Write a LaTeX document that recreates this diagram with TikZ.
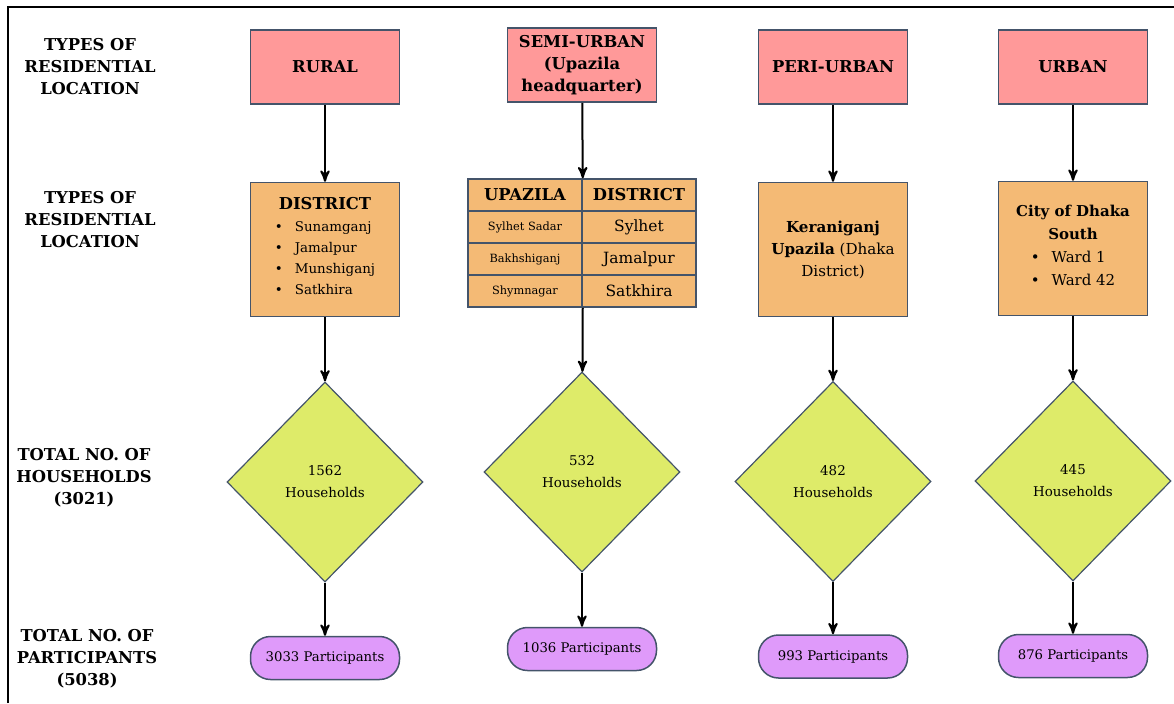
\documentclass[tikz,border=0pt]{standalone}
\usepackage{fontspec}
\setmainfont{DejaVu Serif}[Scale=0.86]
\usetikzlibrary{shapes.geometric, arrows}
\usepackage{color}

\definecolor{locred}{HTML}{FF9999}
\definecolor{areaorange}{HTML}{F4BA75}
\definecolor{hhgreen}{HTML}{DEEB69}
\definecolor{partviolet}{HTML}{DF9AFA}
\definecolor{boxedge}{HTML}{44546A}

\tikzset{
  location/.style={rectangle, draw=boxedge, fill=locred, line width=0.75pt,
    minimum width=74.5pt, minimum height=37pt, align=center,
    font=\fontsize{9.5}{11}\selectfont\bfseries},
  area/.style={rectangle, draw=boxedge, fill=areaorange, line width=0.75pt,
    minimum width=74.5pt, minimum height=67pt, align=center,
    font=\fontsize{7.8}{10.5}\selectfont},
  cell/.style={rectangle, draw=boxedge, fill=areaorange, line width=0.75pt,
    minimum width=57pt, minimum height=16pt, inner sep=0pt},
  household/.style={diamond, draw=boxedge, fill=hhgreen, line width=0.6pt,
    minimum width=98pt, minimum height=100pt, inner sep=0pt, align=center,
    font=\fontsize{7.8}{11}\selectfont},
  participant/.style={rectangle, rounded corners=10pt, draw=boxedge, fill=partviolet,
    line width=0.75pt, minimum width=74.5pt, minimum height=21.5pt,
    font=\fontsize{7.7}{10}\selectfont},
  rowlabel/.style={align=center, font=\fontsize{9.5}{11}\selectfont\bfseries}
}

\begin{document}
\begin{tikzpicture}[x=0.5pt,y=-0.5pt,->,>=stealth',line width=1pt,node distance=91.25pt]
  \useasboundingbox (0,0) rectangle (1174,703);
  \draw[-] (8,703) -- (8,7) -- (1174,7);

  % row labels
  \node[rowlabel] (lbl-loc) at (90,67) {TYPES OF\\RESIDENTIAL\\LOCATION};
  \node[rowlabel] (lbl-area) at (90,220) {TYPES OF\\RESIDENTIAL\\LOCATION};
  \node[rowlabel] (lbl-hh) at (84,478) {TOTAL NO. OF\\HOUSEHOLDS\\(3021)};
  \node[rowlabel] (lbl-part) at (87,659) {TOTAL NO. OF\\PARTICIPANTS\\(5038)};

  % rural
  \node[location] (rural) at (325,67) {RURAL};
  \node[area] (rural-area) [below of = rural] {\fontsize{9.5}{11}\selectfont\textbf{DISTRICT}\\[0.5pt]
    \begin{tabular}[t]{@{}l@{\hspace{6pt}}l@{}}
      \textbullet & Sunamganj\\ \textbullet & Jamalpur\\ \textbullet & Munshiganj\\ \textbullet & Satkhira
    \end{tabular}};
  \node[household] (rural-hh) [below of = rural-area, node distance=116.25pt] {1562\\Households};
  \node[participant] (rural-part) [below of = rural-hh, node distance=88pt] {3033 Participants};

  % semi-urban
  \node[location] (semi) at (582,65) {SEMI-URBAN\\(Upazila\\headquarter)};
  \node[cell, font=\fontsize{9.5}{11}\selectfont\bfseries] (upz-1) at (525,195) {UPAZILA};
  \node[cell, font=\fontsize{9.5}{11}\selectfont\bfseries] (dist-1) [right of = upz-1, node distance=57pt] {DISTRICT};
  \node[cell, font=\fontsize{6.6}{8}\selectfont] (upz-2) [below of = upz-1, node distance=16pt] {Sylhet Sadar};
  \node[cell, font=\fontsize{9}{10}\selectfont] (dist-2) [right of = upz-2, node distance=57pt] {Sylhet};
  \node[cell, font=\fontsize{6.6}{8}\selectfont] (upz-3) [below of = upz-2, node distance=16pt] {Bakhshiganj};
  \node[cell, font=\fontsize{9}{10}\selectfont] (dist-3) [right of = upz-3, node distance=57pt] {Jamalpur};
  \node[cell, font=\fontsize{6.6}{8}\selectfont] (upz-4) [below of = upz-3, node distance=16pt] {Shymnagar};
  \node[cell, font=\fontsize{9}{10}\selectfont] (dist-4) [right of = upz-4, node distance=57pt] {Satkhira};
  \node[household] (semi-hh) [below of = semi, node distance=203.5pt] {532\\Households};
  \node[participant] (semi-part) [below of = semi-hh, node distance=88.5pt] {1036 Participants};

  % peri-urban
  \node[location] (peri) at (833,67) {PERI-URBAN};
  \node[area, font=\fontsize{8.8}{11}\selectfont] (peri-area) [below of = peri] {\textbf{Keraniganj}\\\textbf{Upazila} (Dhaka\\District)};
  \node[household] (peri-hh) [below of = peri-area, node distance=116pt] {482\\Households};
  \node[participant] (peri-part) [below of = peri-hh, node distance=87.5pt] {993 Participants};

  % urban
  \node[location] (urban) at (1073,67) {URBAN};
  \node[area, font=\fontsize{8.7}{11.5}\selectfont] (urban-area) [below of = urban, node distance=90.75pt] {\textbf{City of Dhaka}\\\textbf{South}\\
    \begin{tabular}[t]{@{}l@{\hspace{6pt}}l@{}}
      \textbullet & Ward 1\\ \textbullet & Ward 42
    \end{tabular}};
  \node[household] (urban-hh) [below of = urban-area, node distance=116.25pt] {445\\Households};
  \node[participant] (urban-part) [below of = urban-hh, node distance=87.5pt] {876 Participants};

  \path
  (rural) edge (rural-area)
  (rural-area) edge (rural-hh)
  (rural-hh) edge (rural-part)
  (semi) edge (upz-1.north east)
  (upz-4.south east) edge (semi-hh)
  (semi-hh) edge (semi-part)
  (peri) edge (peri-area)
  (peri-area) edge (peri-hh)
  (peri-hh) edge (peri-part)
  (urban) edge (urban-area)
  (urban-area) edge (urban-hh)
  (urban-hh) edge (urban-part)
  ;
\end{tikzpicture}
\end{document}
